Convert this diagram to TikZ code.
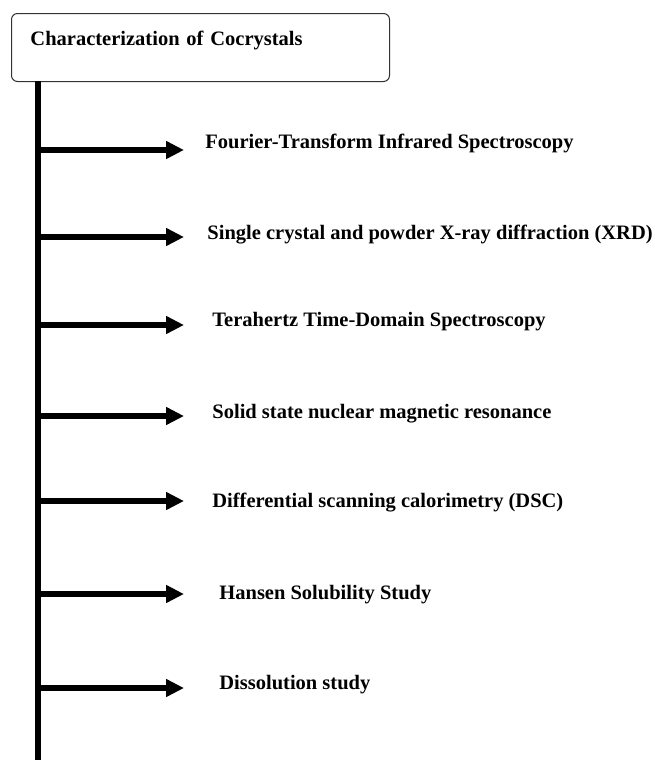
\documentclass[tikz,border=0pt]{standalone}
\usepackage{fontspec}
\setmainfont{Liberation Serif}
\usetikzlibrary{arrows.meta}
\tikzstyle{titlebox} = [rectangle, rounded corners=3pt, draw=black!80, line width=0.5pt, anchor=north west, inner xsep=9.5pt, inner ysep=0pt, text width=170pt, align=left, text height=16pt, text depth=18pt, font=\fontsize{10.25}{12}\selectfont\bfseries]
\tikzstyle{method} = [anchor=base west, inner sep=0pt, font=\fontsize{10.25}{12}\selectfont\bfseries]
\tikzstyle{spine} = [line width=3pt]
\tikzstyle{arrow} = [line width=2.75pt, -{Triangle[length=9pt, width=8.5pt]}]

\begin{document}
\begin{tikzpicture}[x=0.5pt, y=-0.5pt]
    \useasboundingbox (0,0) rectangle (654,760);

    % Nodes
    \node (title) [titlebox] at (11,13) {Characterization of Cocrystals};
    \node (ftir) [method] at (205,148) {Fourier-Transform Infrared Spectroscopy};
    \node (xrd) [method] at (207,239) {Single crystal and powder X-ray diffraction (XRD)};
    \node (thz) [method] at (212,326) {Terahertz Time-Domain Spectroscopy};
    \node (ssnmr) [method] at (212,418) {Solid state nuclear magnetic resonance};
    \node (dsc) [method] at (212,507) {Differential scanning calorimetry (DSC)};
    \node (hansen) [method] at (219,599) {Hansen Solubility Study};
    \node (dissolution) [method] at (219,689) {Dissolution study};

    % Spine
    \coordinate (top) at (38,81);
    \coordinate (bottom) at (38,762);
    \draw [spine] (top) -- (bottom);

    % Arrows
    \foreach \y/\n in {150/1, 237/2, 325/3, 416/4, 501/5, 594/6, 688/7} {
        \coordinate (s\n) at (38,\y);
        \coordinate (t\n) at (184,\y);
        \draw [arrow] (s\n) -- (t\n);
    }

\end{tikzpicture}
\end{document}
